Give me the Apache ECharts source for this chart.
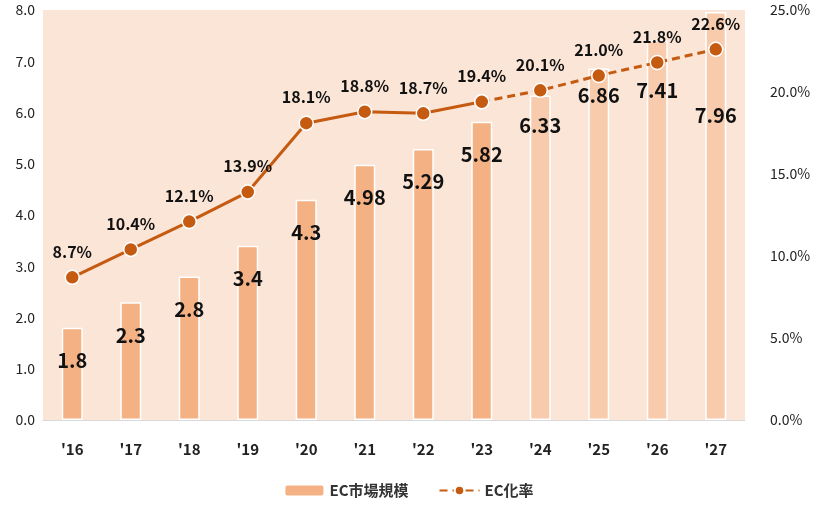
<!doctype html>
<html>
<head>
<meta charset="utf-8">
<script src="https://cdn.jsdelivr.net/npm/echarts@6/dist/echarts.min.js"></script>
<style>html,body{margin:0;width:100%;height:100%;background:#fff}#c{width:817px;height:511px}</style>
</head>
<body>
<div id="c"></div>
<script>
var years = ["'16", "'17", "'18", "'19", "'20", "'21", "'22", "'23", "'24", "'25", "'26", "'27"];
var marketSize = [1.8, 2.3, 2.8, 3.4, 4.3, 4.98, 5.29, 5.82, 6.33, 6.86, 7.41, 7.96];
var ecRate = [8.7, 10.4, 12.1, 13.9, 18.1, 18.8, 18.7, 19.4, 20.1, 21.0, 21.8, 22.6];
var forecastFrom = 8; // '24以降は予測

var font = "'Noto Sans CJK JP', 'Noto Sans', sans-serif";
var labelOffsets = [18, 18, 18, 18, 18, 18, 18, 18, 15, 12, 35, 88];

var barData = marketSize.map(function (v, i) {
  return {
    value: v,
    itemStyle: { color: i >= forecastFrom ? '#f8cbad' : '#f4b183' },
    label: { offset: [0, labelOffsets[i]] }
  };
});
var solidLine = ecRate.map(function (v, i) { return i <= 7 ? v : null; });
var dashLine = ecRate.map(function (v, i) { return i >= 7 ? v : null; });

var chart = echarts.init(document.getElementById('c'));
chart.setOption({
  textStyle: { fontFamily: font },
  grid: { left: 43, right: 72, top: 10, bottom: 91, show: true, backgroundColor: '#fbe5d6', borderWidth: 0 },
  legend: {
    bottom: 8, itemGap: 30, itemWidth: 40, itemHeight: 12,
    textStyle: { fontSize: 15, fontWeight: 'bold', color: '#333' },
    data: ['EC市場規模', 'EC化率']
  },
  xAxis: {
    type: 'category', data: years,
    axisLine: { lineStyle: { color: '#d9d9d9' } }, axisTick: { show: false },
    axisLabel: { fontSize: 15, fontWeight: 'bold', color: '#222', margin: 22 }
  },
  yAxis: [{
    type: 'value', min: 0, max: 8, interval: 1,
    axisLabel: { formatter: function (v) { return v.toFixed(1); }, fontSize: 14, color: '#222', margin: 8 },
    splitLine: { show: false }
  }, {
    type: 'value', min: 0, max: 25, interval: 5,
    axisLabel: { formatter: function (v) { return v.toFixed(1) + '%'; }, fontSize: 14, color: '#222', margin: 25 },
    splitLine: { show: false }
  }],
  series: [{
    name: 'EC市場規模', type: 'bar', data: barData, barWidth: 21,
    itemStyle: { color: '#f4b183', borderColor: '#fff', borderWidth: 1.5 },
    label: { show: true, position: 'insideTop', fontSize: 20, fontWeight: 'bold', color: '#111' },
    z: 2
  }, {
    name: 'EC化率_actual', type: 'line', yAxisIndex: 1, data: solidLine,
    symbol: 'circle', symbolSize: 14, lineStyle: { color: '#c55a11', width: 3 },
    itemStyle: { color: '#c55a11', borderColor: '#fff', borderWidth: 1.5 },
    label: { show: true, position: 'top', distance: 10, fontSize: 16, fontWeight: 'bold', color: '#111',
      formatter: function (p) { return p.value.toFixed(1) + '%'; } },
    z: 5
  }, {
    name: 'EC化率', type: 'line', yAxisIndex: 1, data: dashLine,
    symbol: 'circle', symbolSize: 14, lineStyle: { color: '#c55a11', width: 3, type: [8, 5] },
    itemStyle: { color: '#c55a11', borderColor: '#fff', borderWidth: 1.5 },
    label: { show: true, position: 'top', distance: 10, fontSize: 16, fontWeight: 'bold', color: '#111',
      formatter: function (p) { return p.dataIndex === 7 ? '' : p.value.toFixed(1) + '%'; } },
    z: 5
  }]
});
</script>
</body>
</html>
